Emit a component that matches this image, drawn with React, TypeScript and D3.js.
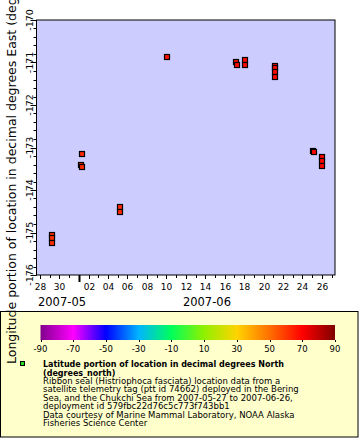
import React from 'react';
import * as d3 from 'd3';

// observation times (UTC), longitude (deg E), latitude (deg N)
const times = [
  '2007-05-29T05:00', '2007-05-29T05:40', '2007-05-29T06:20',
  '2007-06-01T04:30', '2007-06-01T07:00', '2007-06-01T07:40',
  '2007-06-05T05:20', '2007-06-05T05:40',
  '2007-06-10T00:45',
  '2007-06-17T03:10', '2007-06-17T06:30',
  '2007-06-18T02:10', '2007-06-18T02:20',
  '2007-06-21T04:10', '2007-06-21T04:20', '2007-06-21T04:30', '2007-06-21T04:40',
  '2007-06-25T02:10', '2007-06-25T04:50',
  '2007-06-25T23:20', '2007-06-25T23:30', '2007-06-25T23:40',
];
const lons = [
  -175.06, -175.14, -175.24,
  -173.41, -173.15, -173.45,
  -174.40, -174.51,
  -170.86,
  -170.99, -171.06,
  -170.94, -171.06,
  -171.08, -171.14, -171.22, -171.35,
  -173.08, -173.11,
  -173.22, -173.32, -173.43,
];
const lats = [
  61.6, 61.6, 61.7,
  62.8, 63.0, 62.9,
  62.2, 62.3,
  67.0,
  68.2, 68.0,
  68.4, 68.3,
  68.6, 68.5, 68.6, 68.7,
  69.2, 69.1,
  69.3, 69.2, 69.4,
];

const colorStops = [-90, -70, -50, -30, -10, 10, 30, 50, 70, 90];
const colorValues = ['#80008c', '#ff00ff', '#0000ff', '#00b4ff', '#00ff5a', '#90f000', '#ffd400', '#ff7000', '#ff0000', '#800000'];
const colorTicks = [-90, -70, -50, -30, -10, 10, 30, 50, 70, 90];

const yTicks = [-170, -171, -172, -173, -174, -175, -176];
const monthLabels = ['2007-05', '2007-06'];

const legendLines = [
  'Ribbon seal (Histriophoca fasciata) location data from a',
  'satellite telemetry tag (ptt id 74662) deployed in the Bering',
  'Sea, and the Chukchi Sea from 2007-05-27 to 2007-06-26,',
  'deployment id 579fbc22d76c5c773f743bb1',
  'Data courtesy of Marine Mammal Laboratory, NOAA Alaska',
  'Fisheries Science Center',
];

const W = 360;
const H = 440;
const font = 'DejaVu Sans';

const App = () => {
  const plot = { left: 36.5, right: 335, top: 20, bottom: 275 };
  const parse = d3.utcParse('%Y-%m-%dT%H:%M');
  const pts = times.map((t, i) => ({ t: parse(t)!, lon: lons[i], lat: lats[i] }));

  const x = d3.scaleUtc()
    .domain([new Date(Date.UTC(2007, 4, 27, 15, 20)), new Date(Date.UTC(2007, 5, 27, 8, 25))])
    .range([plot.left, plot.right]);
  const y = d3.scaleLinear().domain([-170, -176]).range([plot.top, plot.bottom]);
  const color = d3.scaleLinear<string>().domain(colorStops).range(colorValues).clamp(true);

  const days = d3.utcDay.range(d3.utcDay.ceil(x.domain()[0]), x.domain()[1]);
  const fmtDay = d3.utcFormat('%d');
  const minorY = d3.range(-176, -169.99, 0.2);

  // colorbar
  const cb = { left: 40.5, right: 335, top: 325, bottom: 340 };
  const cx = d3.scaleLinear().domain([-90, 90]).range([cb.left, cb.right]);

  const juneStart = x(new Date(Date.UTC(2007, 5, 1)));

  return (
    <svg width={W} height={H} style={{ position: 'absolute', left: 0, top: 0, background: '#fff' }} fontFamily={font}>
      <defs>
        <linearGradient id="cbar" x1="0" x2="1" y1="0" y2="0">
          {colorStops.map((s, i) => (
            <stop key={s} offset={`${((s + 90) / 180) * 100}%`} stopColor={colorValues[i]} />
          ))}
        </linearGradient>
      </defs>

      {/* plot area */}
      <rect x={plot.left} y={plot.top} width={plot.right - plot.left} height={plot.bottom - plot.top} fill="#ccccff" />

      {/* data markers */}
      {pts.map((d, i) => (
        <rect key={i} x={Math.round(x(d.t)) - 2.5} y={Math.round(y(d.lon)) - 2.5} width={5} height={5}
          fill={color(d.lat)} stroke="#000" strokeWidth={1.2} />
      ))}

      <rect x={plot.left} y={plot.top} width={plot.right - plot.left} height={plot.bottom - plot.top}
        fill="none" stroke="#000" strokeWidth={1} />

      {/* y axis ticks */}
      {minorY.map((v, i) => (
        <line key={'m' + i} x1={plot.left - 3} x2={plot.left} y1={Math.round(y(v)) + 0.5} y2={Math.round(y(v)) + 0.5} stroke="#000" />
      ))}
      {yTicks.map(v => (
        <g key={v}>
          <line x1={plot.left - 6} x2={plot.left} y1={Math.round(y(v)) + 0.5} y2={Math.round(y(v)) + 0.5} stroke="#000" />
          <text transform={`translate(${plot.left - 3.5},${y(v)}) rotate(-90)`} textAnchor="middle" fontSize={9.5}>{v}</text>
        </g>
      ))}

      {/* x axis ticks */}
      {days.map((d, i) => {
        const px = Math.round(x(d)) + 0.5;
        const isMonth = d.getUTCDate() === 1;
        const labeled = d.getUTCDate() % 2 === 0;
        return (
          <g key={i}>
            <line x1={px} x2={px} y1={plot.bottom} y2={plot.bottom + (isMonth ? 7 : labeled ? 4 : 3)}
              stroke="#000" strokeWidth={isMonth ? 2 : 1} />
            {labeled && (
              <text x={px} y={plot.bottom + 14.5} textAnchor="middle" fontSize={9}>{fmtDay(d)}</text>
            )}
          </g>
        );
      })}
      <text x={62} y={305.5} textAnchor="middle" fontSize={11.5}>{monthLabels[0]}</text>
      <text x={(juneStart + plot.right) / 2} y={305.5} textAnchor="middle" fontSize={11.5}>{monthLabels[1]}</text>

      {/* legend box */}
      <rect x={0.5} y={311.5} width={357.5} height={125.5} fill="#ffffcc" stroke="#000" />
      <rect x={cb.left} y={cb.top} width={cb.right - cb.left} height={cb.bottom - cb.top} fill="url(#cbar)" />
      {colorTicks.map(v => (
        <g key={v}>
          <line x1={Math.round(cx(v)) + 0.5} x2={Math.round(cx(v)) + 0.5} y1={cb.bottom} y2={cb.bottom + 2} stroke="#000" />
          <text x={cx(v)} y={352} textAnchor="middle" fontSize={8.5}>{v}</text>
        </g>
      ))}
      <rect x={20.5} y={361.5} width={4} height={4} fill="#22dd22" stroke="#000" />
      <text x={43} y={367} fontSize={8} fontWeight="bold">Latitude portion of location in decimal degrees North</text>
      <text x={43} y={375.5} fontSize={8} fontWeight="bold">(degrees_north)</text>
      {legendLines.map((l, i) => (
        <text key={i} x={43} y={384 + i * 8.4} fontSize={8.5}>{l}</text>
      ))}

      {/* y axis title (runs off the top like the original) */}
      <text transform="translate(16,364) rotate(-90)" fontSize={12.5}>
        Longitude portion of location in decimal degrees East (degrees_east)
      </text>
    </svg>
  );
};

export default App;
